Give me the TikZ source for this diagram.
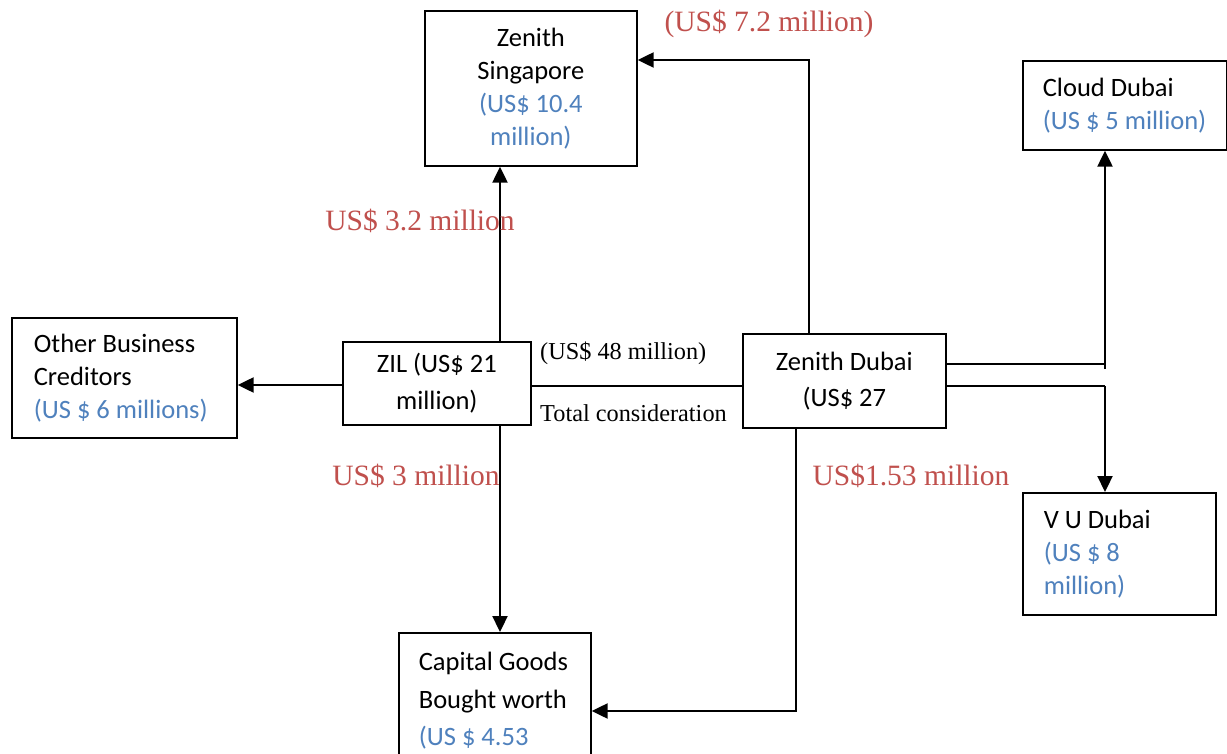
\documentclass[tikz,border=0pt]{standalone}
\usepackage{fontspec}
\setmainfont{Liberation Serif}
\newfontfamily\boxfont{Carlito}
\usetikzlibrary{arrows.meta}
\definecolor{lblred}{HTML}{C0504D}
\definecolor{valblue}{HTML}{4F81BD}
\newcommand{\padline}[2]{\makebox[#1][l]{#2}}
\begin{document}
\begin{tikzpicture}[x=1pt,y=-1pt,
  box/.style={draw, line width=1.7pt, inner sep=0pt, anchor=north west,
    font=\boxfont\fontsize{26.5}{33}\selectfont},
  conn/.style={line width=2.3pt},
  thinconn/.style={line width=1.5pt},
  arr/.style={conn, -{Triangle[length=16pt,width=15pt]}},
  lbl/.style={text=lblred, inner sep=0pt, font=\fontsize{29.5}{31}\selectfont},
  note/.style={inner sep=0pt, anchor=west, font=\fontsize{24.3}{26}\selectfont}]
\clip (0,0) rectangle (1227,754);
\fill[white] (0,0) rectangle (1227,754);

% boxes
\node[box, minimum width=212, minimum height=155, align=center] (sing) at (424,10)
  {Zenith\\Singapore\\\textcolor{valblue}{(US\$ 10.4}\\\textcolor{valblue}{million)}};
\node[box, minimum width=204, minimum height=89, align=left] (cloud) at (1022,60)
  {\padline{164pt}{Cloud Dubai}\\\textcolor{valblue}{(US \$ 5 million)}};
\node[box, minimum width=225, minimum height=120, align=left] (other) at (11,317)
  {\padline{181pt}{Other Business}\\Creditors\\\textcolor{valblue}{(US \$ 6 millions)}};
\node[box, minimum width=188, minimum height=83, align=center,
  font=\boxfont\fontsize{26.5}{37}\selectfont] (zil) at (342,341)
  {ZIL (US\$ 21\\million)};
\node[box, minimum width=203, minimum height=94, align=center,
  font=\boxfont\fontsize{26.5}{36}\selectfont] (zd) at (742,333)
  {Zenith Dubai\\(US\$ 27};
\node[box, minimum width=193, minimum height=122, align=left] (vu) at (1022,492)
  {\padline{151pt}{V U Dubai}\\\textcolor{valblue}{(US \$ 8}\\\textcolor{valblue}{million)}};
\node[box, minimum width=192, minimum height=136, align=left,
  font=\boxfont\fontsize{26.5}{37.5}\selectfont] (cap) at (398,632)
  {\padline{152pt}{Capital Goods}\\Bought worth\\\textcolor{valblue}{(US \$ 4.53}};

% connector guide coordinates
\coordinate (xa) at (500,0);
\coordinate (yo) at (0,385);
\coordinate (yt) at (0,386);
\coordinate (c1) at (809,60);
\coordinate (c2) at (1105,364);
\coordinate (c3) at (1105,386);
\coordinate (c4) at (796,711);

% connectors
\draw[arr] (zil.north -| xa) -- (sing.south -| xa);
\draw[arr] (zil.south -| xa) -- (cap.north -| xa);
\draw[arr] (zil.west |- yo) -- (other.east |- yo);
\draw[thinconn] (zil.east |- yt) -- (zd.west |- yt);
\draw[arr] (zd.north -| c1) -- (c1) -- (c1 -| sing.east);
\draw[thinconn] (c2 -| zd.east) -- (c2);
\draw[arr] ([yshift=-5pt]c2) -- (c2 |- cloud.south);
\draw[thinconn] (c3 -| zd.east) -- (c3);
\draw[arr] (c3) -- (c3 |- vu.north);
\draw[arr] (zd.south -| c4) -- (c4) -- (c4 -| cap.east);

% labels
\node[lbl] (l72) at (769,24) {(US\$ 7.2 million)};
\node[lbl] (l32) at (420,221) {US\$ 3.2 million};
\node[lbl] (l3) at (416,476) {US\$ 3 million};
\node[lbl] (l153) at (911,476) {US\$1.53 million};
\node[note] (t48) at (540,353) {(US\$ 48 million)};
\node[note] (ttc) at (540,413) {Total consideration};
\end{tikzpicture}
\end{document}
